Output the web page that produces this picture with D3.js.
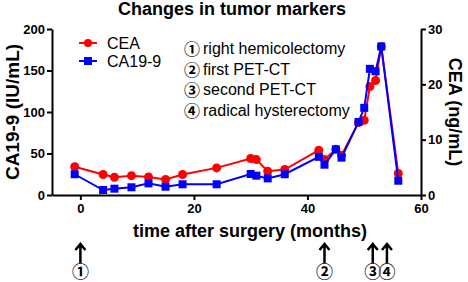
<!DOCTYPE html>
<html>
<head>
<meta charset="utf-8">
<script src="https://cdn.jsdelivr.net/npm/d3@7"></script>
<style>
  body { margin: 0; background: #fff; }
  text { font-family: 'Liberation Sans', Arial, sans-serif; }
  .circ { font-family: 'Noto Sans CJK JP', 'DejaVu Sans', sans-serif; font-weight: bold; }
</style>
</head>
<body>
<div id="chart"></div>
<script>
// data
const months = [-1, 4, 6, 9, 12, 15, 18, 24, 30, 31, 33, 36, 42, 43, 45, 46, 49, 50, 51, 52, 53, 56]
const cea    = [5.1, 3.7, 3.2, 3.5, 3.25, 2.8, 3.7, 4.9, 6.6, 6.4, 4.3, 4.6, 8.1, 6.4, 8.25, 7.2, 13.1, 13.5, 19.6, 20.7, 26.8, 3.9]
const ca199  = [25, 6, 7.6, 9.3, 14, 10, 12.9, 12.9, 25.3, 23.3, 20, 25, 46, 36.5, 55, 45, 88, 105, 152, 149, 179, 17.2]

const xTicks = [0, 20, 40, 60]
const leftTicks = [0, 50, 100, 150, 200]
const rightTicks = [0, 10, 20, 30]

const events = [0, 43, 51.5, 54]
const eventMarks = ['①', '②', '③', '④']
const notes = ['right hemicolectomy', 'first PET-CT', 'second PET-CT', 'radical hysterectomy']

const width = 468, height = 282
const plot = { left: 52, right: 421, top: 29, bottom: 195 }
const red = '#ff0000', blue = '#0000ff'

const x = d3.scaleLinear().domain([-5, 60]).range([plot.left, plot.right])
const yL = d3.scaleLinear().domain([0, 200]).range([plot.bottom, plot.top])
const yR = d3.scaleLinear().domain([0, 30]).range([plot.bottom, plot.top])

const svg = d3.select('#chart').append('svg')
  .attr('width', width)
  .attr('height', height)

// title
svg.append('text')
  .attr('x', 232).attr('y', 15)
  .attr('text-anchor', 'middle')
  .style('font-weight', 'bold').style('font-size', '18px')
  .text('Changes in tumor markers')

// axes
function styleAxis (g) {
  g.selectAll('path').attr('stroke-width', 2)
  g.selectAll('line').attr('stroke-width', 2)
  g.selectAll('text').style('font-weight', 'bold').style('font-size', '13px')
    .attr('font-family', null)
}

svg.append('g')
  .attr('transform', `translate(0, ${plot.bottom})`)
  .call(d3.axisBottom(x).tickValues(xTicks).tickSize(5).tickSizeOuter(0).tickPadding(4))
  .call(styleAxis)

svg.append('g')
  .attr('transform', `translate(${plot.left}, 0)`)
  .call(d3.axisLeft(yL).tickValues(leftTicks).tickSize(5).tickSizeOuter(0).tickPadding(2))
  .call(styleAxis)

svg.append('g')
  .attr('transform', `translate(${plot.right}, 0)`)
  .call(d3.axisRight(yR).tickValues(rightTicks).tickSize(5).tickSizeOuter(0).tickPadding(2))
  .call(styleAxis)

// axis titles
svg.append('text')
  .attr('transform', `translate(19, ${(plot.top + plot.bottom) / 2}) rotate(-90)`)
  .attr('text-anchor', 'middle')
  .style('font-weight', 'bold').style('font-size', '19px')
  .text('CA19-9 (IU/mL)')

svg.append('text')
  .attr('transform', `translate(449, ${(plot.top + plot.bottom) / 2}) rotate(90)`)
  .attr('text-anchor', 'middle')
  .style('font-weight', 'bold').style('font-size', '18px')
  .text('CEA (ng/mL)')

svg.append('text')
  .attr('x', 250).attr('y', 237)
  .attr('text-anchor', 'middle')
  .style('font-weight', 'bold').style('font-size', '18px')
  .text('time after surgery (months)')

// series
const ceaData = months.map((m, i) => ({ m, v: cea[i] }))
const caData = months.map((m, i) => ({ m, v: ca199[i] }))

const ceaLine = d3.line().x(d => x(d.m)).y(d => yR(d.v))
const caLine = d3.line().x(d => x(d.m)).y(d => yL(d.v))

svg.append('path').datum(ceaData)
  .attr('d', ceaLine).attr('fill', 'none').attr('stroke', red).attr('stroke-width', 2)
svg.append('g').selectAll('circle').data(ceaData).enter()
  .append('circle')
  .attr('cx', d => x(d.m)).attr('cy', d => yR(d.v)).attr('r', 4.5)
  .attr('fill', red)

svg.append('path').datum(caData)
  .attr('d', caLine).attr('fill', 'none').attr('stroke', blue).attr('stroke-width', 2)
svg.append('g').selectAll('rect').data(caData).enter()
  .append('rect')
  .attr('x', d => x(d.m) - 4).attr('y', d => yL(d.v) - 4)
  .attr('width', 8).attr('height', 8)
  .attr('fill', blue)

// legend
const legend = [{ name: 'CEA', color: red, shape: 'circle' }, { name: 'CA19-9', color: blue, shape: 'square' }]
const lg = svg.append('g').selectAll('g').data(legend).enter()
  .append('g')
  .attr('transform', (d, i) => `translate(79, ${43 + i * 18})`)
lg.append('line').attr('x1', 0).attr('x2', 18).attr('stroke', d => d.color).attr('stroke-width', 2)
lg.filter(d => d.shape === 'circle').append('circle')
  .attr('cx', 9).attr('r', 4).attr('fill', d => d.color)
lg.filter(d => d.shape === 'square').append('rect')
  .attr('x', 5).attr('y', -4).attr('width', 8).attr('height', 8).attr('fill', d => d.color)
lg.append('text').attr('x', 28).attr('y', 5.5)
  .style('font-size', '16px')
  .text(d => d.name)

// event notes
const nt = svg.append('g').selectAll('g').data(notes).enter()
  .append('g')
  .attr('transform', (d, i) => `translate(0, ${54 + i * 20.5})`)
nt.append('text').attr('class', 'circ')
  .attr('x', 184).attr('y', 1)
  .style('font-size', '16px')
  .text((d, i) => eventMarks[i])
nt.append('text')
  .attr('x', 203)
  .style('font-size', '16px')
  .text(d => d)

// event arrows under the axis
const ev = svg.append('g').selectAll('g').data(events).enter()
  .append('g')
  .attr('transform', d => `translate(${x(d)}, 0)`)
ev.append('path')
  .attr('d', 'M0,263V244M-5,250L0,244L5,250')
  .attr('fill', 'none').attr('stroke', '#000').attr('stroke-width', 2.5)
ev.append('text')
  .attr('class', 'circ')
  .attr('y', 278)
  .attr('text-anchor', 'middle')
  .style('font-size', '17px')
  .text((d, i) => eventMarks[i])
</script>
</body>
</html>
